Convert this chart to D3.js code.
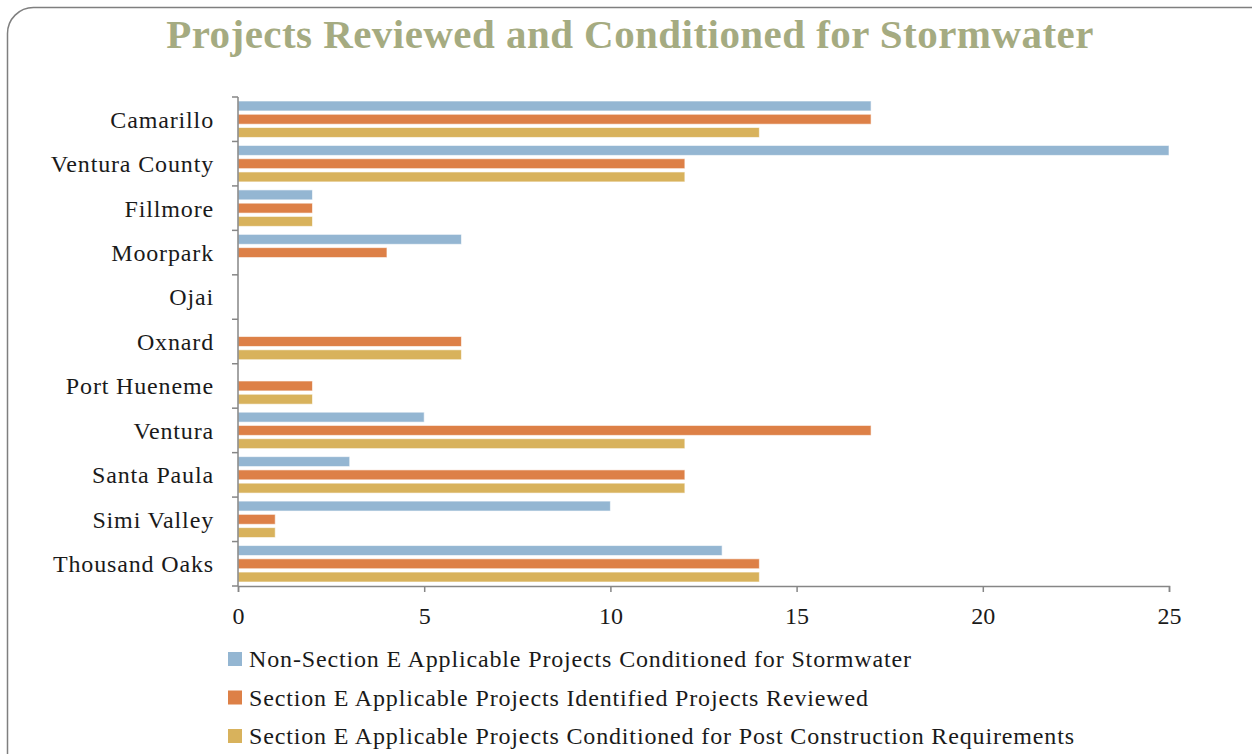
<!DOCTYPE html>
<html>
<head>
<meta charset="utf-8">
<script src="https://cdn.jsdelivr.net/npm/d3@7"></script>
<style>
  body { margin: 0; background: #fff; }
  text { font-family: "Liberation Serif", "DejaVu Serif", serif; }
</style>
</head>
<body>
<svg></svg>
<script>
const categories = ["Camarillo", "Ventura County", "Fillmore", "Moorpark", "Ojai", "Oxnard",
    "Port Hueneme", "Ventura", "Santa Paula", "Simi Valley", "Thousand Oaks"];
const seriesNames = [
    "Non-Section E Applicable Projects Conditioned for Stormwater",
    "Section E Applicable Projects Identified Projects Reviewed",
    "Section E Applicable Projects Conditioned for Post Construction Requirements"
];
const nonSectionE = [17, 25, 2, 6, 0, 0, 0, 5, 3, 10, 13];
const sectionEReviewed = [17, 12, 2, 4, 0, 6, 2, 17, 12, 1, 14];
const sectionEConditioned = [14, 12, 2, 0, 0, 6, 2, 12, 12, 1, 14];
const xTicks = [0, 5, 10, 15, 20, 25];
const colors = ["#94B6D2", "#DD8047", "#D8B25C"];

const width = 1252, height = 754;
const svg = d3.select("svg").attr("width", width).attr("height", height);

// rounded frame
svg.append("rect")
    .attr("x", 7.5).attr("y", 7.5)
    .attr("width", 1270).attr("height", 800)
    .attr("rx", 26).attr("ry", 26)
    .attr("fill", "none")
    .attr("stroke", "#7f7f7f")
    .attr("stroke-width", 1.5);

svg.append("text")
    .attr("x", 630).attr("y", 48)
    .attr("text-anchor", "middle")
    .attr("font-size", 41)
    .attr("letter-spacing", 0.45)
    .attr("font-weight", "bold")
    .attr("fill", "#A5AB81")
    .text("Projects Reviewed and Conditioned for Stormwater");

const plotLeft = 238, plotRight = 1169, plotTop = 97, plotBottom = 586;

const x = d3.scaleLinear().domain([0, 25]).range([plotLeft, plotRight]);
const y = d3.scaleBand().domain(categories).range([plotTop, plotBottom]);
const inner = d3.scaleBand().domain([0, 1, 2]).range([4, y.bandwidth() - 4]).paddingInner(0.25);

const data = categories.map((c, i) => ({
    category: c,
    values: [nonSectionE[i], sectionEReviewed[i], sectionEConditioned[i]]
}));

// bars
const groups = svg.append("g").attr("class", "bars")
    .selectAll("g")
    .data(data)
    .enter()
    .append("g")
    .attr("transform", d => `translate(0,${y(d.category)})`);

groups.selectAll("rect")
    .data(d => d.values.map((v, k) => ({ v: v, k: k })).filter(d => d.v > 0))
    .enter()
    .append("rect")
    .attr("x", x(0))
    .attr("y", d => inner(d.k))
    .attr("width", d => x(d.v) - x(0))
    .attr("height", inner.bandwidth())
    .attr("fill", d => colors[d.k])
    .attr("stroke", "#fff")
    .attr("stroke-opacity", 0.6)
    .attr("stroke-width", 1);

// y axis: line with ticks at band boundaries
const axisColor = "#868686";
svg.append("line")
    .attr("x1", plotLeft).attr("x2", plotLeft)
    .attr("y1", plotTop).attr("y2", plotBottom)
    .attr("stroke", axisColor).attr("stroke-width", 1.5);

const boundaries = categories.map(c => y(c)).concat([plotBottom]);
svg.append("g").selectAll("line")
    .data(boundaries)
    .enter()
    .append("line")
    .attr("x1", plotLeft - 6).attr("x2", plotLeft)
    .attr("y1", d => d).attr("y2", d => d)
    .attr("stroke", axisColor).attr("stroke-width", 1.5);

svg.append("g").attr("class", "categoryLabels")
    .selectAll("text")
    .data(categories)
    .enter()
    .append("text")
    .attr("x", 214)
    .attr("y", d => y(d) + y.bandwidth() / 2)
    .attr("dy", "0.35em")
    .attr("text-anchor", "end")
    .attr("font-size", 24)
    .attr("letter-spacing", 0.85)
    .attr("fill", "#1a1a1a")
    .text(d => d);

// x axis
const xAxis = svg.append("g")
    .attr("transform", `translate(0,${plotBottom})`)
    .call(d3.axisBottom(x).tickValues(xTicks).tickSize(6).tickPadding(15));
xAxis.select(".domain").attr("stroke", axisColor).attr("stroke-width", 1.5);
xAxis.selectAll(".tick line").attr("stroke", axisColor).attr("stroke-width", 1.5);
xAxis.selectAll(".tick text")
    .attr("font-size", 24)
    .attr("font-family", "Liberation Serif, serif")
    .attr("fill", "#1a1a1a");

// legend
const legend = svg.append("g").attr("class", "legend")
    .selectAll("g")
    .data(seriesNames)
    .enter()
    .append("g")
    .attr("transform", (d, i) => `translate(228,${659 + i * 38.5})`);

legend.append("rect")
    .attr("x", 0).attr("y", -7)
    .attr("width", 14).attr("height", 14)
    .attr("fill", (d, i) => colors[i]);

legend.append("text")
    .attr("x", 21)
    .attr("dy", "0.35em")
    .attr("font-size", 24)
    .attr("letter-spacing", 0.85)
    .attr("fill", "#1a1a1a")
    .text(d => d);
</script>
</body>
</html>
